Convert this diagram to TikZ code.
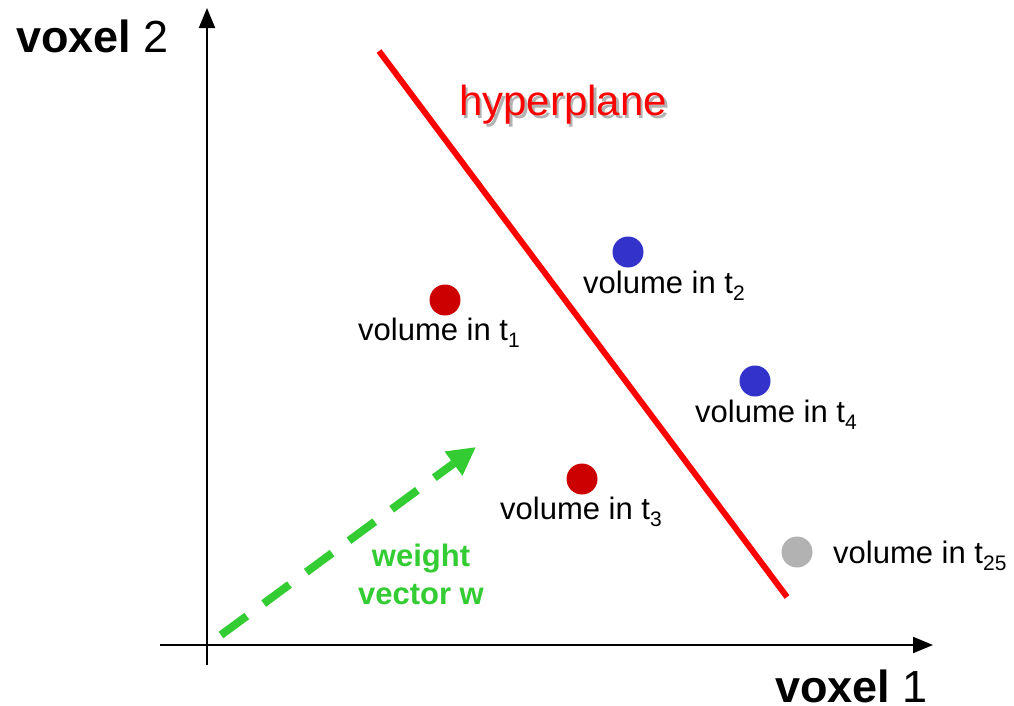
\documentclass[tikz,border=0pt]{standalone}
\usepackage{fontspec}
\setmainfont{Liberation Sans}
\usetikzlibrary{arrows.meta}
\definecolor{hypred}{RGB}{255,0,0}
\definecolor{dotred}{RGB}{204,0,0}
\definecolor{dotblue}{RGB}{51,51,204}
\definecolor{dotgray}{RGB}{178,178,178}
\definecolor{wgreen}{RGB}{51,204,51}
\newcommand\tsubs[1]{\raisebox{-0.45ex}{\fontsize{21}{21}\selectfont #1}}
\begin{document}
\begin{tikzpicture}[x=1pt,y=-1pt,
  axis/.style={line width=2pt,-{Triangle[length=20pt,width=16pt]}},
  dot/.style={circle,inner sep=0pt,minimum size=31pt},
  lbl/.style={inner sep=0pt,anchor=west,font=\fontsize{31}{36}\selectfont},
  axlbl/.style={inner sep=0pt,font=\fontsize{45}{50}\selectfont},
  hyper/.style={line width=6pt,hypred},
  wvec/.style={line width=8pt,wgreen,dash pattern=on 32pt off 21pt,-{Triangle[length=28pt,width=28pt]}}]
\useasboundingbox (0,0) rectangle (1014,705);
% axes
\coordinate (yb) at (207,665);
\coordinate (yt) at (207,8);
\coordinate (xl) at (160,645);
\coordinate (xr) at (933,645);
\draw[axis] (yb) -- (yt);
\draw[axis] (xl) -- (xr);
\node[axlbl,anchor=west] (v2) at (16,36) {\textbf{voxel} 2};
\node[axlbl,anchor=east] (v1) at (928,686) {\textbf{voxel} 1};
% hyperplane
\coordinate (h1) at (379,51);
\coordinate (h2) at (787,597);
\draw[hyper] (h1) -- (h2);
\node[inner sep=0pt,anchor=west,font=\fontsize{42}{46}\selectfont,text=dotgray] at (461.5,107.5) {hyperplane};
\node[inner sep=0pt,anchor=west,font=\fontsize{42}{46}\selectfont,text=hypred] (hl) at (459,105) {hyperplane};
% weight vector
\coordinate (w1) at (221,635);
\coordinate (w2) at (476,447);
\draw[wvec] (w1) -- (w2);
\node[inner sep=0pt,align=center,text=wgreen,font=\bfseries\fontsize{31}{38}\selectfont] (wl) at (421,574) {weight\\vector w};
% points
\node[dot,fill=dotred] (p1) at (445,300) {};
\node[dot,fill=dotblue] (p2) at (628,252) {};
\node[dot,fill=dotred] (p3) at (582,479) {};
\node[dot,fill=dotblue] (p4) at (755,381) {};
\node[dot,fill=dotgray] (p25) at (797,552) {};
\node[lbl] (l1) at (358,333) {volume in t\tsubs{1}};
\node[lbl] (l2) at (583,286) {volume in t\tsubs{2}};
\node[lbl] (l3) at (500,512) {volume in t\tsubs{3}};
\node[lbl] (l4) at (695,415) {volume in t\tsubs{4}};
\node[lbl] (l25) at (833,556) {volume in t\tsubs{25}};
\end{tikzpicture}
\end{document}
